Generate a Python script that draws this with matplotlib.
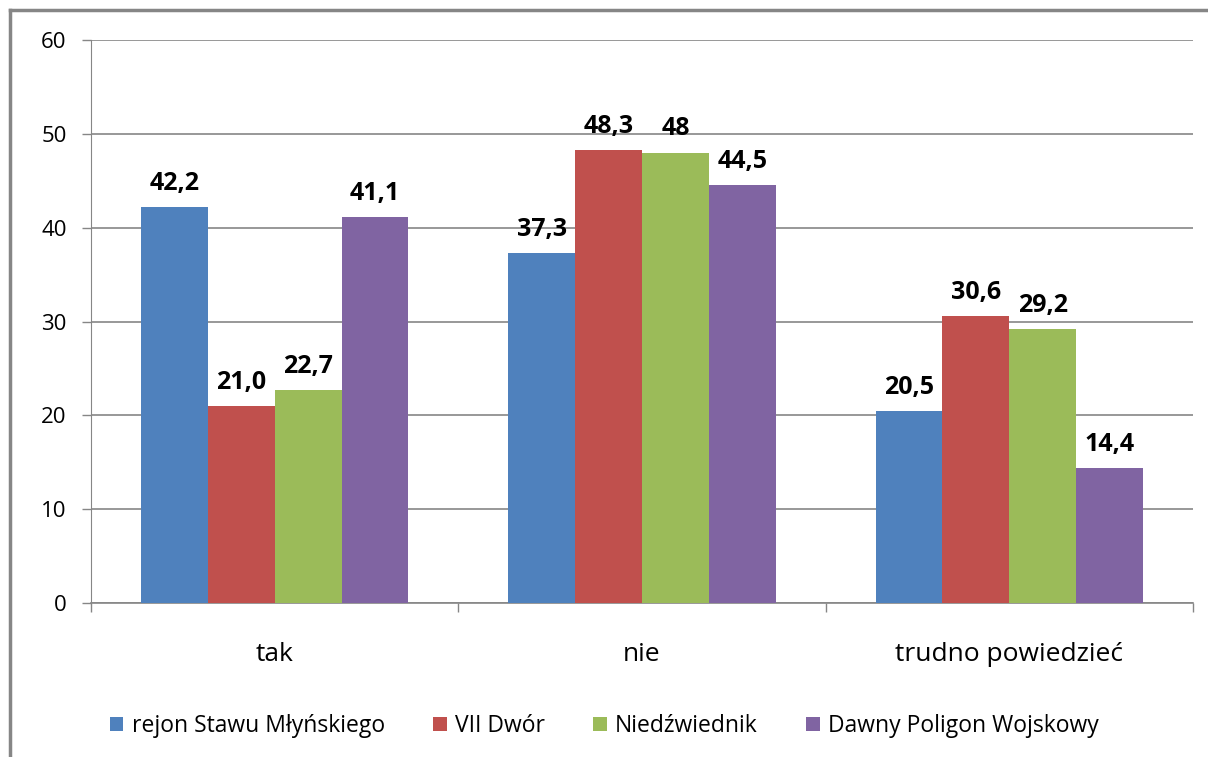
import matplotlib
matplotlib.use("Agg")
import matplotlib.pyplot as plt
from matplotlib.patches import Patch
from matplotlib.lines import Line2D
import numpy as np

categories = ["tak", "nie", "trudno powiedzieć"]
series_names = ["rejon Stawu Młyńskiego", "VII Dwór", "Niedźwiednik", "Dawny Poligon Wojskowy"]
values = {
    "rejon Stawu Młyńskiego": [42.2, 37.3, 20.5],
    "VII Dwór": [21.0, 48.3, 30.6],
    "Niedźwiednik": [22.7, 48.0, 29.2],
    "Dawny Poligon Wojskowy": [41.1, 44.5, 14.4],
}
value_labels = {
    "rejon Stawu Młyńskiego": ["42,2", "37,3", "20,5"],
    "VII Dwór": ["21,0", "48,3", "30,6"],
    "Niedźwiednik": ["22,7", "48", "29,2"],
    "Dawny Poligon Wojskowy": ["41,1", "44,5", "14,4"],
}
colors = ["#4F81BD", "#C0504D", "#9BBB59", "#8064A2"]
yticks = [0, 10, 20, 30, 40, 50, 60]

plt.rcParams['font.family'] = ['Open Sans', 'DejaVu Sans']

fig = plt.figure(figsize=(12.08, 7.57), dpi=100)
ax = fig.add_axes([91/1208, 1-603/757, (1193-91)/1208, (603-40)/757])

x = np.arange(len(categories))
bw = 0.182
grid_c = "#868686"
for i, name in enumerate(series_names):
    pos = x + (i - 1.5) * bw
    ax.bar(pos, values[name], width=bw, color=colors[i], zorder=3)
    for p, v, lab in zip(pos, values[name], value_labels[name]):
        ax.annotate(lab, (p, v), xytext=(0, 8), textcoords="offset points",
                    ha="center", va="bottom", fontsize=18, fontweight="bold", color="#000000")

ax.set_xlim(-0.5, 2.5)
ax.set_ylim(0, 60)
ax.set_yticks(yticks)
ax.set_yticklabels([str(t) for t in yticks], fontsize=16)
ax.yaxis.grid(True, color=grid_c, linewidth=1.2, zorder=0)
ax.set_axisbelow(True)
ax.tick_params(axis="y", length=6.5, color=grid_c, pad=11, width=1)

ax.set_xticks(x)
ax.set_xticklabels(categories, fontsize=19)
ax.tick_params(axis="x", length=0, pad=28)
ax.set_xticks([-0.5, 0.5, 1.5, 2.5], minor=True)
ax.tick_params(axis="x", which="minor", length=6.5, color=grid_c, width=1)

for s in ["top", "right"]:
    ax.spines[s].set_visible(False)
ax.spines["left"].set_color(grid_c)
ax.spines["bottom"].set_color(grid_c)
ax.spines["bottom"].set_linewidth(1.2)

handles = [Patch(facecolor=c, edgecolor="none") for c in colors]
fig.legend(handles, series_names, loc="center", bbox_to_anchor=(0.5, 1-726/757), ncol=4,
           frameon=False, fontsize=16.5, handlelength=0.61, handleheight=0.61,
           handletextpad=0.35, columnspacing=2.1)

# outer frame (partially visible)
fig.add_artist(Line2D([10/1208, 10/1208], [0, 1-10/757], transform=fig.transFigure,
                      color=grid_c, linewidth=2.5))
fig.add_artist(Line2D([10/1208, 1], [1-10/757, 1-10/757], transform=fig.transFigure,
                      color=grid_c, linewidth=2.5))

fig.savefig("out.png", dpi=100)
